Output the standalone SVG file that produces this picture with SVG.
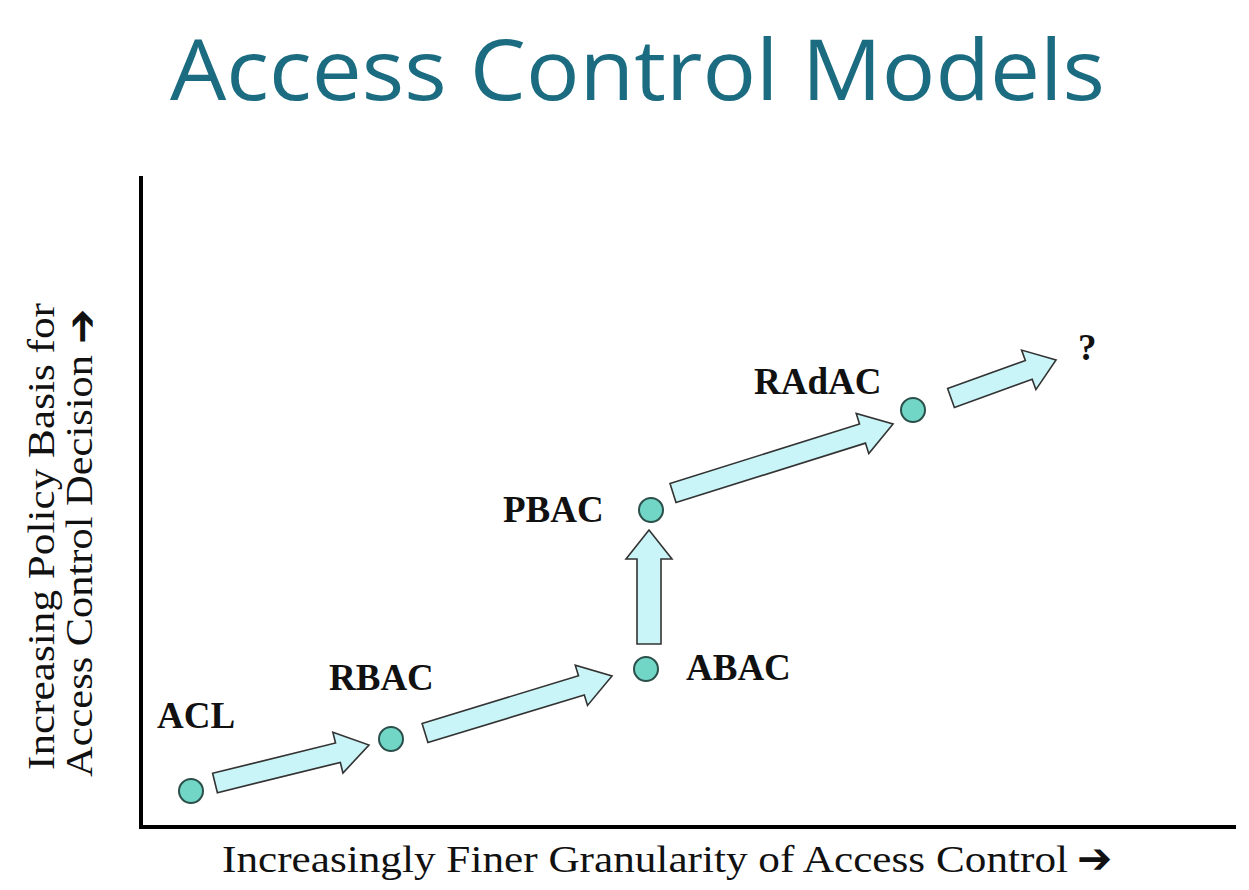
<svg xmlns="http://www.w3.org/2000/svg" width="1249" height="890" viewBox="0 0 1249 890">
<style>
.title{font-family:"Open Sans","Liberation Sans",sans-serif;font-size:84px;fill:#1b6c80}
.lbl{font-family:"Liberation Serif",serif;font-weight:bold;font-size:37px;fill:#111}
.ax{font-family:"Liberation Serif",serif;font-size:38px;fill:#111}
.arr{font-family:"DejaVu Sans",sans-serif;font-size:42px;font-weight:bold;fill:#111}
.node{fill:#72d6c6;stroke:#2b4f4a;stroke-width:2}
.blk{fill:#c9f5f8;stroke:#333;stroke-width:1.6;stroke-linejoin:miter}
.axis{stroke:#000;stroke-width:4;fill:none}
</style>
<rect width="1249" height="890" fill="#fff"/>
<text class="title" x="170" y="100" textLength="935" lengthAdjust="spacingAndGlyphs">Access Control Models</text>
<g id="axes">
<path class="axis" d="M141,176 V827 H1236"/>
</g>
<g id="axis-labels">
<g transform="translate(54,770) rotate(-90)"><text class="ax" x="0" y="0" textLength="467" lengthAdjust="spacingAndGlyphs">Increasing Policy Basis for</text></g>
<g transform="translate(92,777) rotate(-90)"><text class="ax" x="0" y="0" textLength="422" lengthAdjust="spacingAndGlyphs">Access Control Decision</text><text class="arr" x="433" y="4">➔</text></g>
<text class="ax" x="222" y="872" font-size="40" textLength="846" lengthAdjust="spacingAndGlyphs">Increasingly Finer Granularity of Access Control</text>
<text class="arr" x="1077" y="873">➔</text>
</g>
<g id="connectors">
<polygon class="blk" transform="translate(215,783) rotate(-13.86)" points="0,-10 126.6,-10 126.6,-21 158.6,0 126.6,21 126.6,10 0,10"/>
<polygon class="blk" transform="translate(425,733) rotate(-16.95)" points="0,-10 163.5,-10 163.5,-21 195.5,0 163.5,21 163.5,10 0,10"/>
<polygon class="blk" transform="translate(649,644) rotate(-90)" points="0,-12 85,-12 85,-23 114,0 85,23 85,12 0,12"/>
<polygon class="blk" transform="translate(673,493) rotate(-17.41)" points="0,-10 198.6,-10 198.6,-21 230.6,0 198.6,21 198.6,10 0,10"/>
<polygon class="blk" transform="translate(951,398) rotate(-19.9)" points="0,-10 82.7,-10 82.7,-21 111.7,0 82.7,21 82.7,10 0,10"/>
</g>
<g id="ACL"><circle class="node" cx="191" cy="791" r="12"/><text class="lbl" x="157" y="728">ACL</text></g>
<g id="RBAC"><circle class="node" cx="391" cy="739" r="12"/><text class="lbl" x="329" y="690">RBAC</text></g>
<g id="ABAC"><circle class="node" cx="646" cy="669" r="12"/><text class="lbl" x="686" y="680">ABAC</text></g>
<g id="PBAC"><circle class="node" cx="651" cy="510" r="12"/><text class="lbl" x="503" y="522">PBAC</text></g>
<g id="RAdAC"><circle class="node" cx="913" cy="410" r="12"/><text class="lbl" x="754" y="394">RAdAC</text></g>
<g id="Q"><text class="lbl" x="1078" y="360" font-size="30">?</text></g>
</svg>
